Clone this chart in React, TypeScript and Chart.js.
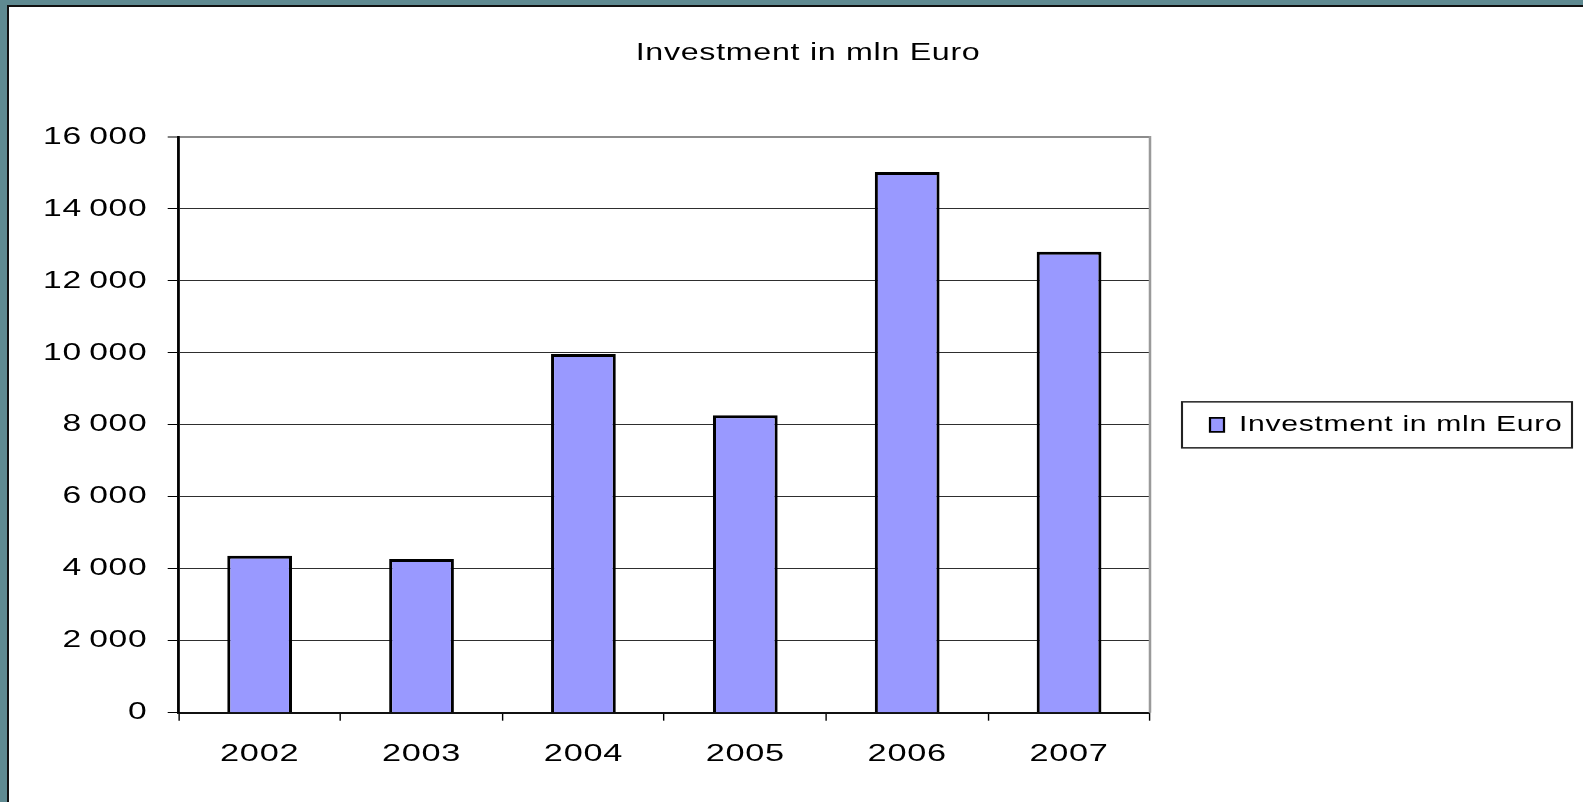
import React, { useEffect, useRef } from 'react';
import { Chart, registerables } from 'chart.js';

Chart.register(...registerables);

const chartTitle = 'Investment in mln Euro';
const seriesLabel = 'Investment in mln Euro';
const years = ['2002', '2003', '2004', '2005', '2006', '2007'];
const investment = [4360, 4270, 9970, 8270, 15030, 12810];
const yMin = 0;
const yMax = 16000;
const yStep = 2000;

const FAMILY = '"Liberation Sans", Arial, sans-serif';
const SPACING = '0.5px';
const CSS_W = 1574;
const CSS_H = 795;
const DRAW_W = 1124;
const K = CSS_W / DRAW_W; // horizontal stretch, like the original picture

const PLOT_LEFT = 169.7 / K;
const PLOT_RIGHT = 1141 / K;
const LEGEND_ITEM_X = 1201 / K;
const LEGEND_FONT = 21.5;
const LEGEND_BOX_W = 14 / K;
const LEGEND_PAD = 5;

const formatTick = (v: number) => {
  const s = String(Math.round(v));
  if (s.length <= 3) return s;
  return s.slice(0, s.length - 3) + '\u2009' + s.slice(s.length - 3);
};

const stretchPlugin = {
  id: 'stretch',
  beforeUpdate(chart: any) {
    chart.ctx.letterSpacing = SPACING;
  },
  beforeLayout(chart: any) {
    chart.ctx.letterSpacing = SPACING;
  },
  beforeDraw(chart: any) {
    const k = chart.canvas.width / chart.width;
    chart.ctx.setTransform(k, 0, 0, 1, 0, 0);
    chart.ctx.letterSpacing = SPACING;
  },
};

const framePlugin = {
  id: 'frame',
  afterDraw(chart: any) {
    const { ctx, chartArea } = chart;
    ctx.save();
    ctx.strokeStyle = '#9a9a9a';
    ctx.lineWidth = 1.8;
    ctx.beginPath();
    ctx.moveTo(chartArea.right, chartArea.top - 1);
    ctx.lineTo(chartArea.right, chartArea.bottom);
    ctx.stroke();
    const hb = chart.legend && chart.legend.legendHitBoxes && chart.legend.legendHitBoxes[0];
    if (hb) {
      const cy = hb.top + hb.height / 2;
      ctx.strokeStyle = '#222';
      ctx.lineWidth = 1.5;
      ctx.strokeRect(hb.left - 28 / K, cy - 23, 390 / K, 46);
    }
    ctx.restore();
  },
};

export default function App() {
  const ref = useRef<HTMLCanvasElement | null>(null);

  useEffect(() => {
    const canvas = ref.current;
    if (!canvas) return;

    // measure the legend text the way Chart.js does, to place the legend item
    const mctx = document.createElement('canvas').getContext('2d') as any;
    mctx.font = `${LEGEND_FONT}px ${FAMILY}`;
    mctx.letterSpacing = SPACING;
    const textW = mctx.measureText(seriesLabel).width;
    const padRight = Math.max(0, DRAW_W - 10 - LEGEND_BOX_W - LEGEND_FONT / 2 - textW - LEGEND_ITEM_X);
    const padLeft = Math.min(22, padRight + 20.5);
    const gapAxisW = Math.max(0, LEGEND_ITEM_X - LEGEND_PAD - PLOT_RIGHT);

    const chart = new Chart(canvas, {
      type: 'bar',
      data: {
        labels: years,
        datasets: [
          {
            label: seriesLabel,
            data: investment,
            backgroundColor: '#9999ff',
            borderColor: '#000000',
            borderWidth: { top: 3, left: 2.2, right: 2.2, bottom: 0 },
            barPercentage: 0.4,
            categoryPercentage: 1,
          },
        ],
      },
      options: {
        responsive: false,
        animation: false,
        devicePixelRatio: 1,
        font: { family: FAMILY },
        color: '#000',
        layout: { padding: { left: padLeft, right: padRight, top: 0, bottom: 0 } },
        plugins: {
          tooltip: { enabled: false },
          title: {
            display: true,
            text: chartTitle,
            color: '#000',
            font: { family: FAMILY, size: 23, weight: 'normal' },
            padding: { top: 32.6, bottom: 69.8 },
          },
          legend: {
            display: true,
            position: 'right',
            fullSize: false,
            labels: {
              color: '#000',
              font: { family: FAMILY, size: LEGEND_FONT },
              boxWidth: LEGEND_BOX_W,
              boxHeight: 14,
              padding: LEGEND_PAD,
              generateLabels: (c: any) =>
                Chart.defaults.plugins.legend.labels
                  .generateLabels(c)
                  .map((l: any) => ({ ...l, lineWidth: 1.6 })),
            },
          },
        },
        scales: {
          x: {
            type: 'category',
            grid: {
              display: true,
              drawOnChartArea: false,
              drawTicks: true,
              tickLength: 8,
              color: '#000',
              offset: true,
            },
            border: { display: true, color: '#111', width: 2 },
            ticks: {
              color: '#000',
              font: { family: FAMILY, size: 24.5 },
              padding: 18.8,
              maxRotation: 0,
            },
            afterFit: (s: any) => {
              s.height = CSS_H - 705.7;
            },
          },
          y: {
            type: 'linear',
            min: yMin,
            max: yMax,
            grid: {
              display: true,
              drawOnChartArea: true,
              drawTicks: true,
              tickLength: 11 / K,
              color: (ctx: any) => (ctx.tick && ctx.tick.value === yMax ? '#8c8c8c' : '#2e2e2e'),
              lineWidth: (ctx: any) => (ctx.tick && ctx.tick.value === yMax ? 2 : 1),
              tickColor: '#000',
              tickWidth: 1,
            },
            border: { display: true, color: '#000', width: 2 },
            ticks: {
              stepSize: yStep,
              color: '#000',
              font: { family: FAMILY, size: 24 },
              padding: 14.5,
              callback: (v: any) => formatTick(Number(v)),
            },
            afterFit: (s: any) => {
              s.width = PLOT_LEFT - padLeft;
            },
          },
          gap: {
            type: 'linear',
            position: 'right',
            display: false,
            afterFit: (s: any) => {
              s.width = gapAxisW;
            },
          },
        },
      },
      plugins: [stretchPlugin, framePlugin],
    });

    // full-resolution bitmap, drawn with a horizontal stretch transform
    canvas.width = CSS_W;
    canvas.height = CSS_H;
    chart.draw();

    return () => chart.destroy();
  }, []);

  return (
    <div
      style={{
        position: 'fixed',
        left: 0,
        top: 0,
        width: 1583,
        height: 802,
        background: '#5f8a91',
        overflow: 'hidden',
      }}
    >
      <div
        style={{
          position: 'absolute',
          left: 7,
          top: 5,
          right: 0,
          bottom: 0,
          background: '#fff',
          borderTop: '2px solid #111',
          borderLeft: '2px solid #111',
        }}
      >
        <canvas
          ref={ref}
          width={DRAW_W}
          height={CSS_H}
          style={{ display: 'block', width: `${CSS_W}px`, height: `${CSS_H}px` }}
        />
      </div>
    </div>
  );
}
